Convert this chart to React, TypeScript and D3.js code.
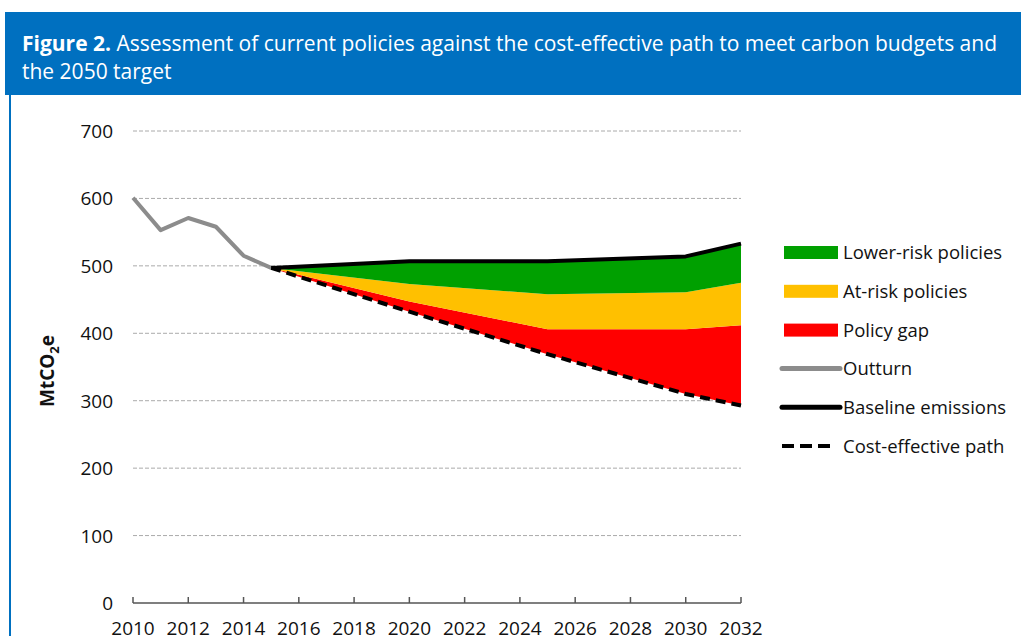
import * as d3 from 'd3';

// --- data ---
const outturnYears = [2010, 2011, 2012, 2013, 2014, 2015];
const outturnValues = [601, 553, 571, 558, 515, 497];

const projYears = [2015, 2020, 2025, 2030, 2032];
const baseline = [497, 507, 507, 514, 533];
const lowerRiskBottom = [497, 473, 458, 461, 475];
const atRiskBottom = [497, 447, 406, 406, 412];
const costEffective = [497, 432, 369, 310, 293];

const xTicks = [2010, 2012, 2014, 2016, 2018, 2020, 2022, 2024, 2026, 2028, 2030, 2032];
const yTicks = [0, 100, 200, 300, 400, 500, 600, 700];

const legendItems = [
  { label: 'Lower-risk policies', kind: 'box', color: '#00a000' },
  { label: 'At-risk policies', kind: 'box', color: '#ffc000' },
  { label: 'Policy gap', kind: 'box', color: '#ff0000' },
  { label: 'Outturn', kind: 'line', color: '#8c8c8c' },
  { label: 'Baseline emissions', kind: 'line', color: '#000000' },
  { label: 'Cost-effective path', kind: 'dash', color: '#000000' },
];

const font = '"Open Sans", "Noto Sans", sans-serif';
const ink = '#111';

export default function App() {
  const W = 1021;
  const H = 636;

  const x = d3.scaleLinear().domain([2010, 2032]).range([133, 741]);
  const y = d3.scaleLinear().domain([0, 700]).range([603, 131]);

  const band = (top: number[], bottom: number[]) =>
    d3.area<number>()
      .x((_, i) => x(projYears[i]))
      .y0((_, i) => y(bottom[i]))
      .y1((_, i) => y(top[i]))(projYears.map((_, i) => i)) || '';

  const line = (years: number[], vals: number[]) =>
    d3.line<number>()
      .x((_, i) => x(years[i]))
      .y((_, i) => y(vals[i]))(years.map((_, i) => i)) || '';

  return (
    <div style={{ position: 'fixed', left: 0, top: 0, width: W, height: H, background: '#fff' }}>
      <svg width={W} height={H} style={{ display: 'block' }}>
        {/* header */}
        <rect x={5} y={12} width={W - 5} height={83} fill="#0070c0" />
        <rect x={9} y={95} width={2} height={H - 95} fill="#0070c0" />
        <text x={22} y={51} fill="#fff" fontFamily={font} fontSize={21}>
          <tspan fontWeight="bold">Figure 2.</tspan> Assessment of current policies against the cost-effective path to meet carbon budgets and
        </text>
        <text x={22} y={79} fill="#fff" fontFamily={font} fontSize={21}>the 2050 target</text>

        {/* grid */}
        {yTicks.filter(t => t > 0).map(t => (
          <line key={t} x1={133} x2={741} y1={y(t)} y2={y(t)} stroke="#aaa" strokeWidth={1} strokeDasharray="4,2" />
        ))}
        {yTicks.map(t => (
          <text key={t} x={113} y={y(t) + 7} textAnchor="end" fontFamily={font} fontSize={19} fill={ink}>{t}</text>
        ))}

        {/* bands */}
        <path d={band(atRiskBottom, costEffective)} fill="#ff0000" />
        <path d={band(lowerRiskBottom, atRiskBottom)} fill="#ffc000" />
        <path d={band(baseline, lowerRiskBottom)} fill="#00a000" />

        {/* lines */}
        <path d={line(outturnYears, outturnValues)} fill="none" stroke="#8c8c8c" strokeWidth={4} strokeLinejoin="round" />
        <path d={line(projYears, baseline)} fill="none" stroke="#000" strokeWidth={4} strokeLinejoin="round" />
        <path d={line(projYears, costEffective)} fill="none" stroke="#000" strokeWidth={4} strokeDasharray="10,6" />

        {/* x axis */}
        <line x1={133} x2={741} y1={603} y2={603} stroke="#555" strokeWidth={1.5} />
        {xTicks.map(t => (
          <g key={t}>
            <line x1={x(t)} x2={x(t)} y1={603} y2={597} stroke="#555" strokeWidth={1.5} />
            <text x={x(t)} y={635} textAnchor="middle" fontFamily={font} fontSize={19} fill={ink}>{t}</text>
          </g>
        ))}

        {/* y label */}
        <text transform="translate(54,371) rotate(-90)" textAnchor="middle" fontFamily={font} fontSize={19} fontWeight="bold" fill={ink}>
          MtCO<tspan fontSize={13} dy={5}>2</tspan><tspan dy={-5}>e</tspan>
        </text>

        {/* legend */}
        {legendItems.map((d, i) => {
          const cy = 252 + i * 38.8;
          return (
            <g key={d.label}>
              {d.kind === 'box' && <rect x={784} y={cy - 6} width={54} height={13} fill={d.color} />}
              {d.kind === 'line' && <line x1={782} x2={840} y1={cy} y2={cy} stroke={d.color} strokeWidth={5} strokeLinecap="round" />}
              {d.kind === 'dash' && <line x1={782} x2={832} y1={cy} y2={cy} stroke={d.color} strokeWidth={4} strokeDasharray="12,6" />}
              <text x={843} y={cy + 7} fontFamily={font} fontSize={18.5} fill={ink}>{d.label}</text>
            </g>
          );
        })}
      </svg>
    </div>
  );
}
